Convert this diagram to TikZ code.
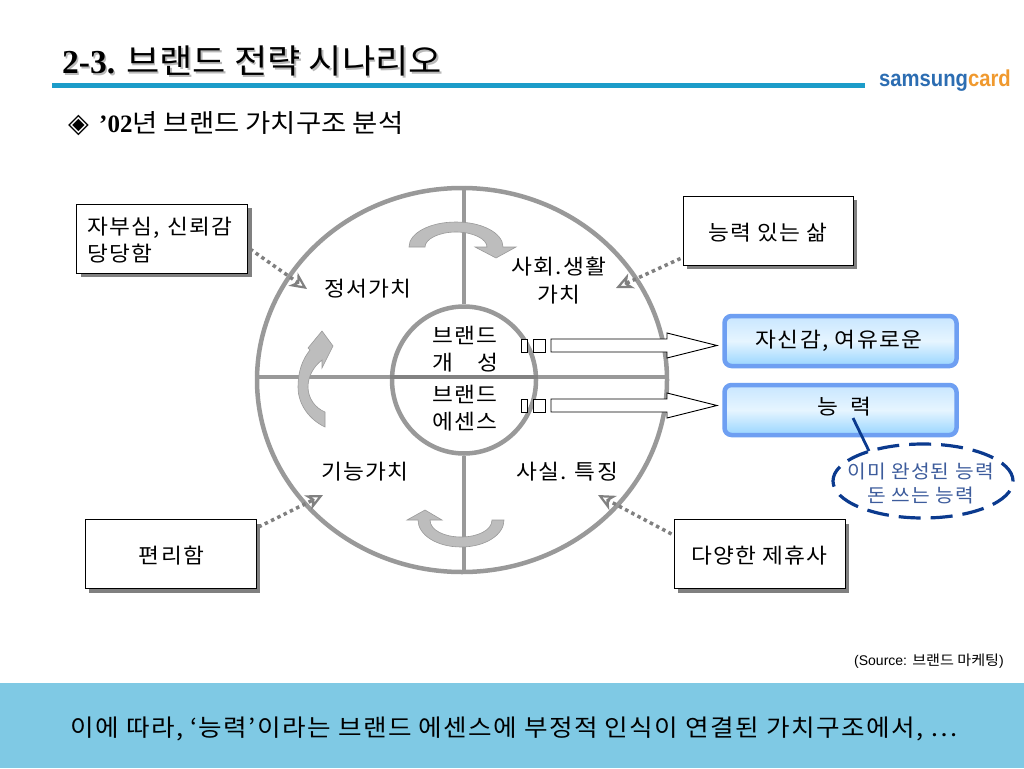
\documentclass[tikz,border=0pt]{standalone}
\usepackage{fontspec}
\setmainfont{Liberation Serif}
\newfontfamily\kr{Noto Sans CJK KR}
\newfontfamily\krw[FakeStretch=1.08]{Noto Sans CJK KR}
\newfontfamily\krsp[LetterSpace=6,FakeStretch=1.08]{Noto Sans CJK KR}
\newfontfamily\lat{Liberation Sans}
\newfontfamily\symb{DejaVu Sans}
\usetikzlibrary{shapes.geometric,shadows,arrows.meta,calc}
\definecolor{ringgray}{HTML}{999999}
\definecolor{curvegray}{HTML}{BDBDBD}
\definecolor{titlebar}{HTML}{1C9CC9}
\definecolor{footerblue}{HTML}{7FC9E4}
\definecolor{boxblue}{HTML}{6E9FF2}
\definecolor{boxtop}{HTML}{C8E6FF}
\definecolor{boxmid}{HTML}{E6F5FF}
\definecolor{boxbot}{HTML}{98D5FF}
\definecolor{navy}{HTML}{0B3A8E}
\definecolor{navytext}{HTML}{3D5C9C}
\definecolor{logoblue}{HTML}{2C6DB2}
\definecolor{logoorange}{HTML}{F0992E}
\tikzset{
  lbl/.style={inner sep=0pt,font=\krsp\fontsize{21}{27}\selectfont,align=center},
  whitebox/.style={draw=black,line width=1pt,fill=white,inner sep=0pt,minimum width=170,minimum height=69,
    copy shadow={shadow xshift=4pt,shadow yshift=-4pt,fill=gray,draw=none,opacity=1},
    font=\krsp\fontsize{21}{27}\selectfont},
  bluebox/.style={draw=boxblue,line width=4.5pt,rounded corners=7pt,inner sep=0pt,minimum width=232,minimum height=50,
    top color=boxtop,bottom color=boxbot,middle color=boxmid,
    font=\krsp\fontsize{21}{27}\selectfont},
  ring/.style={ellipse,draw=ringgray,line width=4.5pt,inner sep=0pt},
  ringline/.style={draw=ringgray,line width=4.5pt},
  curve/.style={fill=curvegray,draw=ringgray,line width=0.6pt},
  dotlink/.style={draw=gray,line width=3.5pt,dash pattern=on 3.5pt off 3.5pt,
    -{Stealth[length=17pt,width=16pt,inset=5pt,line width=2.2pt,gray,fill=white]}},
  whitearrow/.style={draw=black,fill=white,line width=0.9pt},
}
\newcommand{\boxtext}[2]{\raisebox{#1}[14pt][6pt]{#2}}
\begin{document}
\begin{tikzpicture}[x=1pt,y=-1pt]
\useasboundingbox (0,0) rectangle (1024,768);
\fill[white] (0,0) rectangle (1024,768);
% title
\node[anchor=west,inner sep=0pt,gray!55] at (63.5,62.5) {\fontsize{33.5}{33.5}\selectfont\bfseries 2-3. \krw\mdseries 브랜드 전략 시나리오};
\node[anchor=west,inner sep=0pt] (title) at (62,61) {\fontsize{33.5}{33.5}\selectfont\bfseries 2-3. \krw\mdseries 브랜드 전략 시나리오};
\fill[titlebar] (52,82.5) rectangle (865,88);
\node[anchor=west,inner sep=0pt] (logo) at (879,81) {\lat\bfseries\fontsize{23}{23}\selectfont\addfontfeature{FakeStretch=0.88}\textcolor{logoblue}{samsung}\textcolor{logoorange}{card}};
\node[anchor=west,inner sep=0pt] (sub) at (68,124) {\fontsize{25}{25}\selectfont{\symb\fontsize{27}{27}\selectfont ◈}\hspace{4pt} \bfseries ’02\krw\mdseries\fontsize{25.4}{25.4}\selectfont 년 브랜드 가치구조 분석};
% rings
\node[ring,minimum width=410,minimum height=384] (big) at (462,380) {};
\coordinate (hl) at ($(big.west)+(0,-3)$);
\coordinate (hr) at ($(big.east)+(0,-3)$);
\node[ring,minimum width=144,minimum height=147] (small) at (464,380) {};
\draw[ringline] (big.north -| small.north) -- (small.north);
\draw[ringline] (small.south) -- (big.south -| small.south);
\draw[ringline] (hl) -- (hr);
\draw[ringgray!85!black,line width=4.5pt] ($(small.west)+(0,-3)$) -- ($(small.east)+(0,-3)$);
% curved arrows
\draw[curve] (409,247) .. controls (409,233) and (430,222) .. (456,222) .. controls (482,222) and (503,233) .. (503,247) -- (516,247) -- (496,258) -- (475,247) -- (487,247) .. controls (487,239) and (473,232) .. (456,232) .. controls (439,232) and (425,239) .. (425,247) -- cycle;
\draw[curve] (504,520) .. controls (504,535) and (485,547) .. (461,547) .. controls (437,547) and (418,535) .. (418,520) -- (407,520) -- (425,510) -- (442,520) -- (430,520) .. controls (430,530) and (444,537) .. (461,537) .. controls (478,537) and (492,530) .. (492,520) -- cycle;
\draw[curve] (325,427) .. controls (310,420) and (298,405) .. (298,387) .. controls (298,372) and (302,360) .. (310,350) -- (308,348) -- (322,331) -- (333,346) -- (322,368) -- (322,360) .. controls (313,367) and (308,377) .. (308,387) .. controls (308,398) and (315,408) .. (325,412) -- cycle;
% white arrows
\foreach \cy in {345.5,405.5}{
  \draw[whitearrow] (521,\cy-6.5) rectangle (527,\cy+6.5);
  \draw[whitearrow] (533,\cy-6.5) rectangle (545.5,\cy+6.5);
  \draw[whitearrow] (551,\cy-6.5) -- (667,\cy-6.5) -- (667,\cy-12.5) -- (717,\cy) -- (667,\cy+12.5) -- (667,\cy+6.5) -- (551,\cy+6.5) -- cycle;
}
% ring labels
\node[lbl] (n1) at (368,289) {정서가치};
\node[lbl] (n2) at (559,281) {사회.생활\\[1pt]가치};
\node[lbl] (n3) at (465,349.5) {브랜드\\개\hspace{1.15em}성};
\node[lbl] (n4) at (465,408.5) {브랜드\\에센스};
\node[lbl] (n5) at (365,472) {기능가치};
\node[lbl] (n6) at (567,472) {사실. 특징};
% white boxes
\node[whitebox,align=left,text width=149,inner xsep=11pt,minimum width=170] (b1) at (162,238.5) {\rule{0pt}{20pt}자부심, 신뢰감\\당당함};
\node[whitebox] (b2) at (768,230.5) {\boxtext{-5.8pt}{능력 있는 삶}};
\node[whitebox,minimum width=171] (b3) at (170.5,554) {\hspace*{2pt}\boxtext{-5.3pt}{편리함}};
\node[whitebox,minimum width=171] (b4) at (759.5,554) {\boxtext{-5.3pt}{다양한 제휴사}};
% blue boxes
\node[bluebox] (c1) at (840.5,341) {\hspace*{-3pt}\boxtext{-2.3pt}{자신감, 여유로운}};
\node[bluebox] (c2) at (840.5,410) {\hspace*{8pt}\boxtext{-0.3pt}{능\hspace{0.55em}력}};
% dashed ellipse
\node[ellipse,draw=navy,line width=3.2pt,dash pattern=on 22pt off 10pt,inner sep=0pt,minimum width=180,minimum height=74] (oval) at (923,481) {};
\node[inner sep=0pt,align=center,text=navytext,font=\krsp\fontsize{18.8}{24}\selectfont] (ovaltext) at (920.5,483) {이미 완성된 능력\\돈 쓰는 능력};
\coordinate (pin) at (853,418);
\coordinate (pinend) at (869,451);
\draw[navy,line width=2.8pt] (pin) -- (pinend);
% dotted connectors
\coordinate (t1) at (307,289);
\coordinate (t2) at (616,288);
\coordinate (t3) at (323,495);
\coordinate (t4) at (598,495);
\draw[dotlink] ($(b1.east)+(2,10.5)$) -- (t1);
\draw[dotlink] ($(b2.south west)+(-2,-7)$) -- (t2);
\draw[dotlink] ($(b3.north east)+(2,8)$) -- (t3);
\draw[dotlink] ($(b4.north west)+(-2,15)$) -- (t4);
% source + footer
\node[anchor=east,inner sep=0pt] (src) at (1004,661) {\lat\fontsize{14}{14}\selectfont (Source: {\krw 브랜드 마케팅})};
\fill[footerblue] (0,683) rectangle (1024,768);
\node[inner sep=0pt] (foot) at (514,729) {\krsp\fontsize{23.7}{23.7}\selectfont 이에 따라, ‘능력’이라는 브랜드 에센스에 부정적 인식이 연결된 가치구조에서, …};
\end{tikzpicture}
\end{document}
